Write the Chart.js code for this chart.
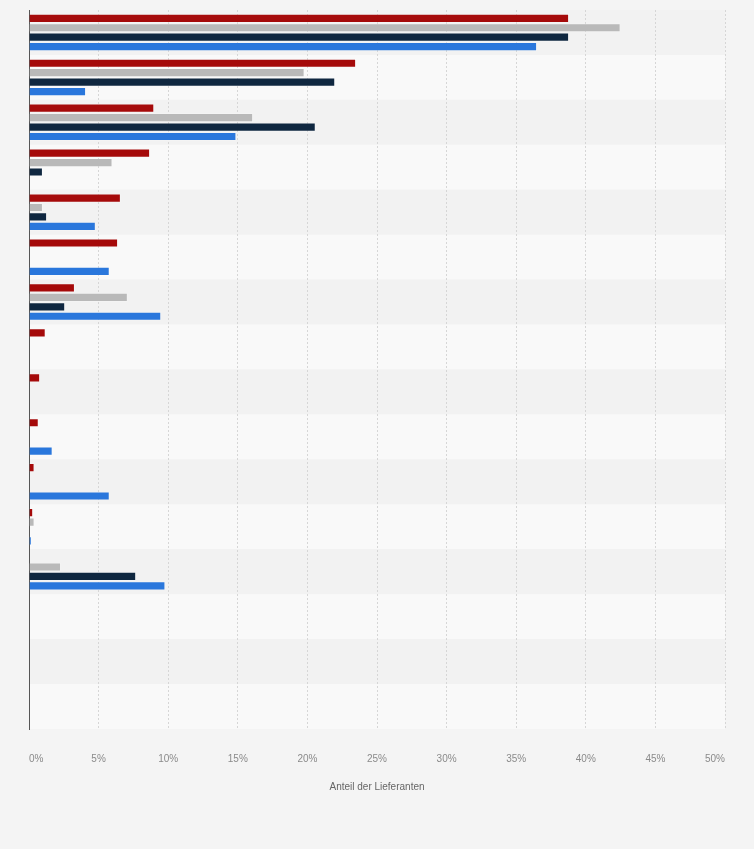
<!DOCTYPE html>
<html>
<head>
<meta charset="utf-8">
<script src="https://cdn.jsdelivr.net/npm/chart.js@4.4.0/dist/chart.umd.min.js"></script>
<style>
  html, body { margin: 0; padding: 0; background: #f4f4f4; }
  #wrap { width: 754px; height: 849px; }
</style>
</head>
<body>
<div id="wrap"><canvas id="chart"></canvas></div>
<script>
// Row labels are not shown in the picture, so they stay hidden
const categories = ["1","2","3","4","5","6","7","8","9","10","11","12","13","14","15","16"];

const serieRot   = [38.8, 23.5, 9.0, 8.7, 6.6, 6.4, 3.3, 1.2, 0.8, 0.7, 0.4, 0.3, 0, 0, 0, 0];
const serieGrau  = [42.5, 19.8, 16.1, 6.0, 1.0, 0, 7.1, 0, 0, 0, 0, 0.4, 2.3, 0, 0, 0];
const serieNavy  = [38.8, 22.0, 20.6, 1.0, 1.3, 0, 2.6, 0, 0, 0, 0, 0, 7.7, 0, 0, 0];
const serieBlau  = [36.5, 4.1, 14.9, 0, 4.8, 5.8, 9.5, 0, 0, 1.7, 5.8, 0.2, 9.8, 0, 0, 0];

const xTicks = [0, 5, 10, 15, 20, 25, 30, 35, 40, 45, 50];

// alternating row bands behind the bars
const rowBands = {
    id: "rowBands",
    beforeDraw(chart) {
        const ctx = chart.ctx;
        const area = chart.chartArea;
        const y = chart.scales.y;
        const step = (area.bottom - area.top) / categories.length;
        ctx.save();
        categories.forEach((c, i) => {
            const mid = y.getPixelForValue(i);
            ctx.fillStyle = i % 2 === 0 ? "#f2f2f2" : "#f9f9f9";
            ctx.fillRect(area.left, mid - step / 2, area.right - area.left, step);
        });
        ctx.restore();
    }
};

function serie(label, data, color) {
    return {
        label: label,
        data: data,
        backgroundColor: color,
        borderColor: "rgba(255,255,255,0.2)",
        borderWidth: 1,
        categoryPercentage: 0.84,
        barPercentage: 0.97
    };
}

new Chart(document.getElementById("chart"), {
    type: "bar",
    data: {
        labels: categories,
        datasets: [
            serie("Serie 1", serieRot, "#a50a0a"),
            serie("Serie 2", serieGrau, "#b9b9b9"),
            serie("Serie 3", serieNavy, "#0f2740"),
            serie("Serie 4", serieBlau, "#2a77dc")
        ]
    },
    options: {
        indexAxis: "y",
        responsive: true,
        maintainAspectRatio: false,
        animation: false,
        layout: { padding: { left: 29, right: 29, top: 10, bottom: 56 } },
        scales: {
            x: {
                min: 0,
                max: 50,
                afterBuildTicks: axis => { axis.ticks = xTicks.map(v => ({ value: v })); },
                grid: { color: "#d6d6d6", drawTicks: false },
                border: { display: false, dash: [2, 2] },
                ticks: {
                    padding: 24,
                    align: "inner",
                    color: "#8a8a8a",
                    font: { family: "Liberation Sans", size: 10 },
                    callback: v => v + "%"
                },
                title: {
                    display: true,
                    text: "Anteil der Lieferanten",
                    color: "#666",
                    font: { family: "Liberation Sans", size: 10 },
                    padding: { top: -8, bottom: 0 }
                }
            },
            y: {
                grid: { display: false, drawTicks: false },
                border: { display: true, color: "#555", width: 1 },
                ticks: { display: false }
            }
        },
        plugins: {
            legend: { display: false },
            tooltip: { enabled: false }
        }
    },
    plugins: [rowBands]
});
</script>
</body>
</html>
